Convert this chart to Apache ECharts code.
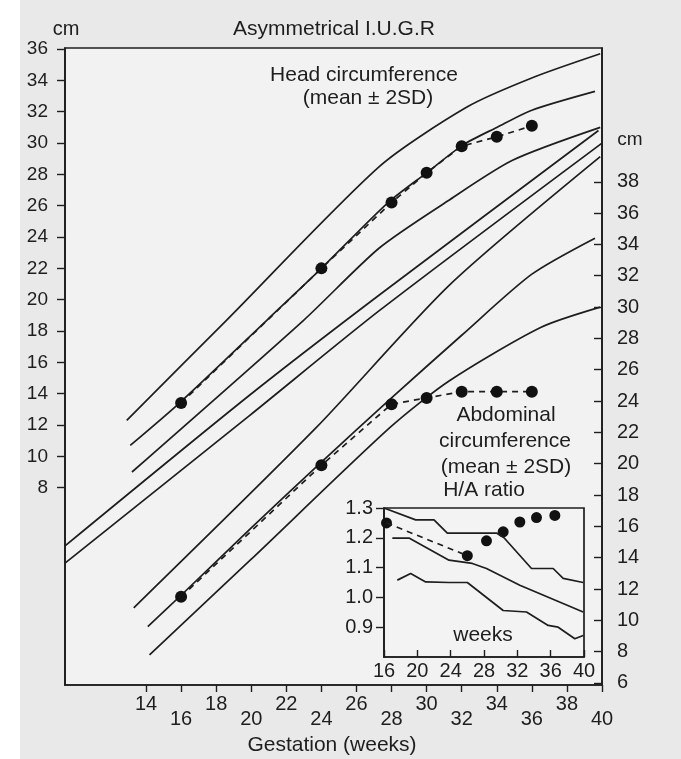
<!DOCTYPE html>
<html>
<head>
<meta charset="utf-8">
<script src="https://cdn.jsdelivr.net/npm/echarts@6/dist/echarts.min.js"></script>
<style>
html,body{margin:0;padding:0;background:#fff;}
#c{width:681px;height:759px;}
</style>
</head>
<body>
<div id="c"></div>
<script>
// ---------- Data ----------
// Main x-axis tick labels (gestation, weeks)
const xTicks = [14,16,18,20,22,24,26,28,30,32,34,36,38,40];
// Left axis ticks (head circumference, cm)
const leftTicks = [8,10,12,14,16,18,20,22,24,26,28,30,32,34,36];
// Right axis ticks (abdominal circumference, cm)
const rightTicks = [6,8,10,12,14,16,18,20,22,24,26,28,30,32,34,36,38];

// Head circumference reference curves (left axis, cm)
const hcUpperWeeks = [12.9, 18.6, 27.3, 32.3, 36.1, 39.9];
const hcUpper      = [12.3, 18.7, 28.5, 32.3, 34.2, 35.7];
const hcMeanWeeks  = [13.1, 16.0, 20.9, 24.0, 27.8, 30.0, 32.1, 34.0, 36.0, 39.6];
const hcMean       = [10.7, 13.5, 18.7, 22.0, 26.2, 28.1, 29.9, 31.0, 32.1, 33.3];
const hcLowerWeeks = [13.2, 23.0, 27.3, 31.2, 34.9, 39.9];
const hcLower      = [9.0, 18.7, 23.3, 26.3, 28.9, 31.0];

// Two long reference lines starting at the left frame (left axis, cm)
const longAWeeks = [9.4, 19.9, 27.3, 39.8];
const longA      = [4.3, 13.9, 20.3, 30.8];
const longBWeeks = [9.4, 19.9, 27.3, 40.0];
const longB      = [3.2, 12.6, 19.3, 30.0];

// Abdominal circumference reference curves (right axis, cm)
const acUpperWeeks = [13.3, 23.7, 31.3, 39.9];
const acUpper      = [10.8, 22.3, 31.4, 39.6];
const acMeanWeeks  = [14.1, 16, 20, 24, 28, 32, 36, 39.6];
const acMean       = [9.6, 11.6, 15.9, 20.1, 24.2, 28.2, 32.1, 34.4];
const acLowerWeeks = [14.2, 20.0, 27.9, 31.3, 36.5, 39.9];
const acLower      = [7.8, 13.9, 22.3, 25.3, 28.7, 30.0];

// Patient measurements
const patientWeeks = [16, 24, 28, 30, 32, 34, 36];
const patientHC    = [13.4, 22.0, 26.2, 28.1, 29.8, 30.4, 31.1];
const patientAC    = [11.5, 19.9, 23.8, 24.2, 24.6, 24.6, 24.6];

// Inset: H/A ratio reference lines
const haTicksY = [0.9, 1.0, 1.1, 1.2, 1.3];
const haUpperWeeks = [16.0, 19.8, 22.0, 23.6, 29.5, 30.4, 33.7, 36.3, 37.5, 39.9];
const haUpper      = [1.30, 1.26, 1.26, 1.216, 1.216, 1.20, 1.097, 1.097, 1.064, 1.05];
const haMeanWeeks  = [17.0, 19.0, 23.8, 26.6, 28.3, 32.3, 39.9];
const haMean       = [1.199, 1.199, 1.125, 1.114, 1.097, 1.041, 0.951];
const haLowerWeeks = [17.6, 19.2, 21.0, 23.8, 26.0, 30.3, 33.1, 35.7, 36.9, 38.9, 39.9];
const haLower      = [1.058, 1.08, 1.052, 1.05, 1.05, 0.956, 0.951, 0.906, 0.90, 0.861, 0.872];
// Inset: patient H/A ratio
const haPatientDashWeeks = [16.3, 26.0];
const haPatientDash      = [1.25, 1.14];
const haPatientWeeks = [16.3, 26.0, 28.3, 30.3, 32.3, 34.3, 36.5];
const haPatient      = [1.25, 1.14, 1.19, 1.22, 1.253, 1.268, 1.275];

// ---------- Chart ----------
const zip = (a, b) => a.map((v, i) => [v, b[i]]);
const INK = '#1e1e1e';
const FONT = '"Liberation Sans", Arial, sans-serif';
const NARROW = '"Liberation Sans Narrow", "Liberation Sans", Arial, sans-serif';

function refLine(data, xi, yi) {
  return {
    type: 'line', xAxisIndex: xi, yAxisIndex: yi, data: data,
    smooth: 0.25, symbol: 'none', silent: true,
    lineStyle: { color: INK, width: 1.7 }
  };
}
function stepLine(data) {
  return {
    type: 'line', xAxisIndex: 1, yAxisIndex: 2, data: data,
    symbol: 'none', silent: true,
    lineStyle: { color: INK, width: 1.7 }
  };
}
function txt(x, y, s, size, family) {
  return { type: 'text', x: x, y: y, z: 50,
    style: { text: s, font: size + 'px ' + (family || FONT), fill: INK, textAlign: 'center', textVerticalAlign: 'middle' } };
}

const chart = echarts.init(document.getElementById('c'), null, { renderer: 'canvas' });
const option = {
  backgroundColor: '#e9e9e9',
  animation: false,
  textStyle: { fontFamily: FONT, color: INK },
  grid: [
    { left: 65, top: 48, width: 537, height: 637, show: true, borderColor: INK, borderWidth: 1.7, backgroundColor: '#f2f2f2' },
    { left: 384, top: 508, width: 200, height: 149, show: true, borderColor: INK, borderWidth: 1.7, backgroundColor: '#f3f3f3' }
  ],
  xAxis: [
    {
      gridIndex: 0, type: 'value', min: 9.38, max: 40,
      axisLine: { show: true, onZero: false, lineStyle: { color: INK, width: 1.7 } },
      splitLine: { show: false },
      axisTick: { show: true, customValues: xTicks, length: 7, lineStyle: { color: INK, width: 1.4 } },
      axisLabel: {
        customValues: xTicks, margin: 9, color: INK, fontFamily: FONT, fontSize: 20,
        formatter: function (v) {
          const k = Math.round((v - 14) / 2);
          return (k % 2 === 0 ? '{a|' : '{b|') + v + '}';
        },
        rich: {
          a: { fontSize: 20, fontFamily: FONT, color: INK },
          b: { fontSize: 20, fontFamily: FONT, color: INK, padding: [15, 0, 0, 0] }
        }
      }
    },
    {
      gridIndex: 1, type: 'value', min: 16, max: 40, interval: 4,
      axisLine: { show: true, onZero: false, lineStyle: { color: INK, width: 1.7 } },
      splitLine: { show: false },
      axisTick: { show: true, inside: true, length: 7, lineStyle: { color: INK, width: 1.4 } },
      axisLabel: { margin: 4, color: INK, fontFamily: FONT, fontSize: 20 }
    }
  ],
  yAxis: [
    {
      gridIndex: 0, type: 'value', min: -4.6, max: 36.07, position: 'left',
      axisLine: { show: true, onZero: false, lineStyle: { color: INK, width: 1.7 } },
      splitLine: { show: false },
      axisTick: { show: true, customValues: leftTicks, length: 8, lineStyle: { color: INK, width: 1.4 } },
      axisLabel: { customValues: leftTicks, margin: 17, color: INK, fontFamily: NARROW, fontSize: 19 }
    },
    {
      gridIndex: 0, type: 'value', min: 5.87, max: 46.54, position: 'right',
      axisLine: { show: true, onZero: false, lineStyle: { color: INK, width: 1.7 } },
      splitLine: { show: false },
      axisTick: { show: true, inside: true, customValues: rightTicks, length: 8, lineStyle: { color: INK, width: 1.4 } },
      axisLabel: { customValues: rightTicks, margin: 15, color: INK, fontFamily: FONT, fontSize: 20 }
    },
    {
      gridIndex: 1, type: 'value', min: 0.8, max: 1.3, position: 'left',
      axisLine: { show: true, onZero: false, lineStyle: { color: INK, width: 1.7 } },
      splitLine: { show: false },
      axisTick: { show: true, customValues: haTicksY, length: 8, lineStyle: { color: INK, width: 1.4 } },
      axisLabel: { customValues: haTicksY, margin: 11, color: INK, fontFamily: FONT, fontSize: 20,
        formatter: function (v) { return v.toFixed(1); } }
    }
  ],
  series: [
    refLine(zip(hcUpperWeeks, hcUpper), 0, 0),
    refLine(zip(hcMeanWeeks, hcMean), 0, 0),
    refLine(zip(hcLowerWeeks, hcLower), 0, 0),
    refLine(zip(longAWeeks, longA), 0, 0),
    refLine(zip(longBWeeks, longB), 0, 0),
    refLine(zip(acUpperWeeks, acUpper), 0, 1),
    refLine(zip(acMeanWeeks, acMean), 0, 1),
    refLine(zip(acLowerWeeks, acLower), 0, 1),
    {
      type: 'line', xAxisIndex: 0, yAxisIndex: 0, data: zip(patientWeeks, patientHC),
      symbol: 'circle', symbolSize: 12, itemStyle: { color: '#111' },
      lineStyle: { color: INK, width: 1.7, type: [6, 5] }
    },
    {
      type: 'line', xAxisIndex: 0, yAxisIndex: 1, data: zip(patientWeeks, patientAC),
      symbol: 'circle', symbolSize: 12, itemStyle: { color: '#111' },
      lineStyle: { color: INK, width: 1.7, type: [6, 5] }
    },
    stepLine(zip(haUpperWeeks, haUpper)),
    stepLine(zip(haMeanWeeks, haMean)),
    stepLine(zip(haLowerWeeks, haLower)),
    {
      type: 'line', xAxisIndex: 1, yAxisIndex: 2, data: zip(haPatientDashWeeks, haPatientDash),
      symbol: 'none', lineStyle: { color: INK, width: 1.7, type: [6, 5] }
    },
    {
      type: 'scatter', xAxisIndex: 1, yAxisIndex: 2, data: zip(haPatientWeeks, haPatient),
      symbol: 'circle', symbolSize: 11, itemStyle: { color: '#111', opacity: 1 }
    }
  ],
  graphic: [
    { type: 'rect', left: 0, top: 0, shape: { width: 20, height: 759 }, style: { fill: '#ffffff' }, z: 100 },
    txt(66, 29, 'cm', 20),
    txt(334, 29, 'Asymmetrical I.U.G.R', 21),
    txt(364, 75, 'Head circumference', 21),
    txt(368, 98, '(mean \u00b1 2SD)', 21),
    txt(630, 140, 'cm', 19),
    txt(506, 415, 'Abdominal', 21),
    txt(505, 441, 'circumference', 21),
    txt(506, 467, '(mean \u00b1 2SD)', 21),
    txt(484, 490, 'H/A ratio', 21),
    txt(483, 635, 'weeks', 21),
    txt(332, 745, 'Gestation (weeks)', 21)
  ]
};
chart.setOption(option);
</script>
</body>
</html>
